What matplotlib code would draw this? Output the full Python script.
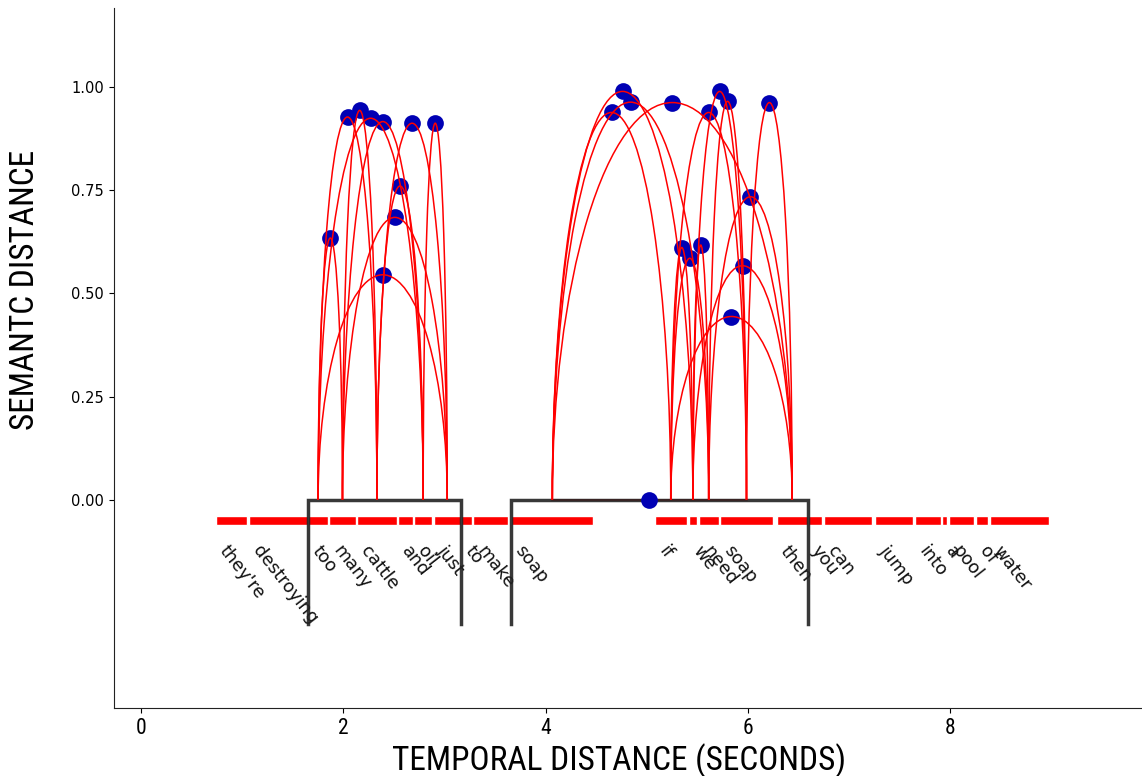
import numpy as np
import matplotlib
matplotlib.use("Agg")
import matplotlib.pyplot as plt
from matplotlib.patches import Arc
from matplotlib import font_manager

# ---- data ----
words = ["they're", "destroying", "too", "many", "cattle", "and", "oil", "just",
         "to", "make", "soap", "if", "we", "need", "soap", "then", "you", "can",
         "jump", "into", "a", "pool", "of", "water"]
word_start = [0.736, 1.062, 1.649, 1.860, 2.136, 2.539, 2.700, 2.892,
              3.162, 3.281, 3.662, 5.081, 5.417, 5.516, 5.724, 6.285, 6.594, 6.750,
              7.257, 7.652, 7.920, 7.989, 8.253, 8.392]
word_end = [1.046, 1.649, 1.850, 2.121, 2.526, 2.688, 2.878, 3.162,
            3.268, 3.630, 4.471, 5.395, 5.496, 5.711, 6.251, 6.594, 6.730, 7.225,
            7.636, 7.907, 7.972, 8.239, 8.378, 8.978]

# phrase brackets (start word index, end word index)
bracket_words = [(2, 7), (10, 15)]

# pairwise semantic distances between content words inside each bracket
pairs_a = [2, 2, 2, 2, 3, 3, 3, 4, 4, 6,
           10, 10, 10, 10, 10, 11, 11, 11, 11, 12, 12, 12, 13, 13, 14]
pairs_b = [3, 4, 6, 7, 4, 6, 7, 6, 7, 7,
           11, 12, 13, 14, 15, 12, 13, 14, 15, 13, 14, 15, 14, 15, 15]
sem_dist = [0.634, 0.927, 0.924, 0.545, 0.943, 0.916, 0.684, 0.760, 0.912, 0.912,
            0.938, 0.989, 0.963, 0.000, 0.962, 0.611, 0.585, 0.938, 0.444, 0.617,
            0.989, 0.567, 0.965, 0.734, 0.962]

# ---- pick a narrow font if one is installed ----
installed = {f.name for f in font_manager.fontManager.ttflist}
narrow = "Liberation Sans"
for cand in ["Liberation Sans Narrow", "Arial Narrow", "Roboto Condensed",
             "Open Sans Condensed", "Noto Sans Condensed"]:
    if cand in installed:
        narrow = cand
        break
narrow_fam = [narrow, "DejaVu Sans"]

# ---- figure ----
fig = plt.figure(figsize=(11.42, 7.76), dpi=100)
ax = fig.add_axes([0.0998, 0.0876, 0.9002, 0.9021])

ws = np.array(word_start)
we = np.array(word_end)
mid = (ws + we) / 2

# word bars
ax.barh(-0.05, we - ws, left=ws, height=0.02, color="red",
        edgecolor="white", linewidth=1.0, zorder=2)

# word labels
for w, s in zip(words, word_start):
    ax.text(s, -0.102, w, rotation=-52, ha="left", va="top",
            fontsize=12.8, family="DejaVu Sans", color="#111111", zorder=3)

# brackets
for i0, i1 in bracket_words:
    s, e = word_start[i0], word_end[i1]
    ax.plot([s, s, e, e], [-0.30, 0.0, 0.0, -0.30], color="#222222",
            lw=2.5, alpha=0.9, solid_joinstyle="miter", zorder=4)

# arcs and peaks
for a, b, d in zip(pairs_a, pairs_b, sem_dist):
    c = (mid[a] + mid[b]) / 2
    wdt = abs(mid[b] - mid[a])
    ax.scatter([c], [d], s=145, color="#0000b4", zorder=5, linewidths=0)
    if d > 0:
        arc = Arc((c, 0), wdt, 2 * d, theta1=0, theta2=180, color="red",
                  lw=1.1, zorder=6)
        ax.add_patch(arc)
    else:
        ax.plot([mid[a], mid[b]], [0, 0], color="red", lw=1.1, zorder=3.5)

ax.set_xlim(-0.27, 9.9)
ax.set_ylim(-0.504, 1.191)
ax.set_yticks([0, 0.25, 0.5, 0.75, 1.0])
ax.set_yticklabels(["0.00", "0.25", "0.50", "0.75", "1.00"],
                   fontsize=10.5, family="DejaVu Sans")
ax.set_xticks([0, 2, 4, 6, 8])
ax.set_xticklabels(["0", "2", "4", "6", "8"], fontsize=15.5, family=narrow_fam)
ax.spines["top"].set_visible(False)
ax.spines["right"].set_visible(False)
for sp in ("left", "bottom"):
    ax.spines[sp].set_color("#222222")

ax.set_xlabel("TEMPORAL DISTANCE (SECONDS)", fontsize=24, family=narrow_fam)
ax.set_ylabel("SEMANTC DISTANCE", fontsize=24, family=narrow_fam)
ax.xaxis.set_label_coords(0.491, -0.050)
ax.yaxis.set_label_coords(-0.071, 0.597)

fig.savefig("out.png", dpi=100)
